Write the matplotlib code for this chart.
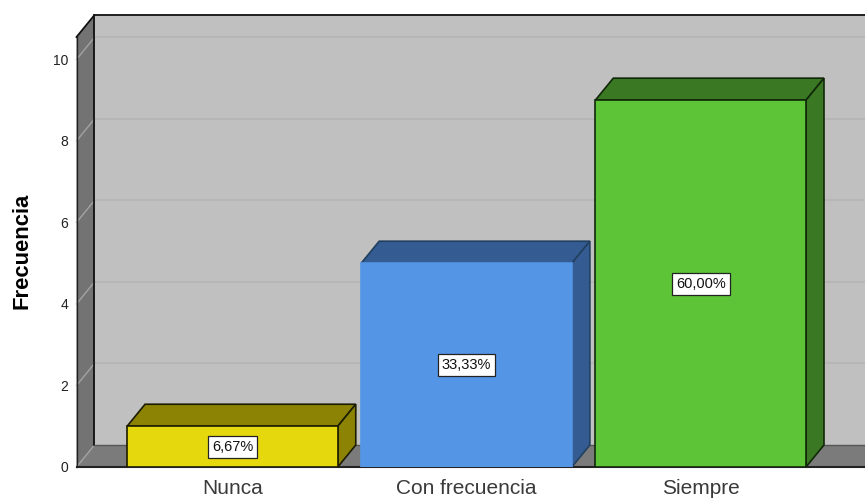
import matplotlib
matplotlib.use('Agg')
import matplotlib.pyplot as plt
from matplotlib.patches import Polygon

categories = ['Nunca', 'Con frecuencia', 'Siempre']
counts = [1, 5, 9]
percent_labels = ['6,67%', '33,33%', '60,00%']
y_ticks = [0, 2, 4, 6, 8, 10]

front_colors = ['#e5d80c', '#5595e6', '#5ec437']
shade_colors = ['#8c8305', '#345c92', '#3b7823']
edge_colors = ['#1c1c00', '#5595e6', '#102808']
top_edge_colors = ['#1c1c00', '#22405f', '#102808']

plt.rcParams['font.family'] = ['Liberation Sans', 'DejaVu Sans']

W, H = 865, 499
fig = plt.figure(figsize=(W / 100, H / 100), dpi=100)

# front plane of the 3d box: left edge, baseline and top in pixels
left, base, top = 76.5, 467, 37
ax = fig.add_axes([left / W, 1 - base / H, (W - left) / W, (base - top) / H])
ax.set_xlim(-0.666, 2.702)
ax.set_ylim(0, 10.55)

# depth of the box in data units
dx = 18 / 234.25
dy = 22 / 40.75
x0, x1 = ax.get_xlim()
y0, y1 = ax.get_ylim()
x_end = x1 + dx


def poly(points, color, edge='none', lw=0.0, z=1):
    p = Polygon(points, closed=True, facecolor=color, edgecolor=edge, linewidth=lw,
                zorder=z, clip_on=False, joinstyle='miter')
    ax.add_patch(p)


ax.patch.set_visible(False)

# walls and floor
poly([(x0 + dx, y0 + dy), (x_end, y0 + dy), (x_end, y1 + dy), (x0 + dx, y1 + dy)], '#c0c0c0')
poly([(x0, y0), (x0 + dx, y0 + dy), (x0 + dx, y1 + dy), (x0, y1)], '#737373')
poly([(x0, y0), (x_end, y0), (x_end, y0 + dy), (x0 + dx, y0 + dy)], '#7b7b7b')

# gridlines on the back and side wall
for t in y_ticks[1:]:
    ax.plot([x0 + dx, x_end], [t + dy, t + dy], color='#b4b4b4', lw=1.2, zorder=1.5, clip_on=False)
    ax.plot([x0, x0 + dx], [t, t + dy], color='#a3a3a3', lw=1.0, zorder=1.5, clip_on=False)
ax.plot([x0, x0 + dx], [y0, y0 + dy], color='#a3a3a3', lw=1.0, zorder=1.5, clip_on=False)

# box outline
ax.plot([x0 + dx, x0 + dx], [y0 + dy, y1 + dy], color='#111111', lw=1.3, zorder=1.6, clip_on=False)
ax.plot([x0, x0], [y0, y1], color='#222222', lw=1.0, zorder=1.6, clip_on=False)
ax.plot([x0, x0 + dx, x_end], [y1, y1 + dy, y1 + dy], color='#111111', lw=1.3, zorder=1.6, clip_on=False)
ax.plot([x0, x_end], [y0, y0], color='#222222', lw=1.5, zorder=1.6, clip_on=False)
ax.plot([x0 + dx, x_end], [y0 + dy, y0 + dy], color='#555555', lw=1.0, zorder=1.6, clip_on=False)

# bars
width = 0.9
for i, v in enumerate(counts):
    a, b = i - width / 2, i + width / 2
    poly([(a, v), (b, v), (b + dx, v + dy), (a + dx, v + dy)], shade_colors[i], top_edge_colors[i], 1.2, 2)
    poly([(b, 0), (b + dx, dy), (b + dx, v + dy), (b, v)], shade_colors[i], top_edge_colors[i], 1.2, 2)
    ax.bar(i, v, width=width, color=front_colors[i], edgecolor=edge_colors[i], linewidth=1.2, zorder=3)
    ax.text(i, v / 2, percent_labels[i], ha='center', va='center', fontsize=10.5, color='#111111', zorder=4,
            bbox=dict(boxstyle='square,pad=0.28', facecolor='white', edgecolor='#222222', linewidth=0.9))

for s in ax.spines.values():
    s.set_visible(False)

ax.set_xticks(range(len(categories)))
ax.set_xticklabels(categories, fontsize=15, color='#3a3a3a')
ax.set_yticks(y_ticks)
ax.tick_params(axis='x', length=0, pad=9)
ax.tick_params(axis='y', length=0, pad=6, labelsize=10, labelcolor='#222222')
ax.set_ylabel('Frecuencia', fontsize=15.8, fontweight='bold', color='black')
ax.yaxis.set_label_coords(-44 / (W - left), 0.5 + 1 / (base - top), transform=ax.transAxes)

fig.savefig('out.png', dpi=100)
